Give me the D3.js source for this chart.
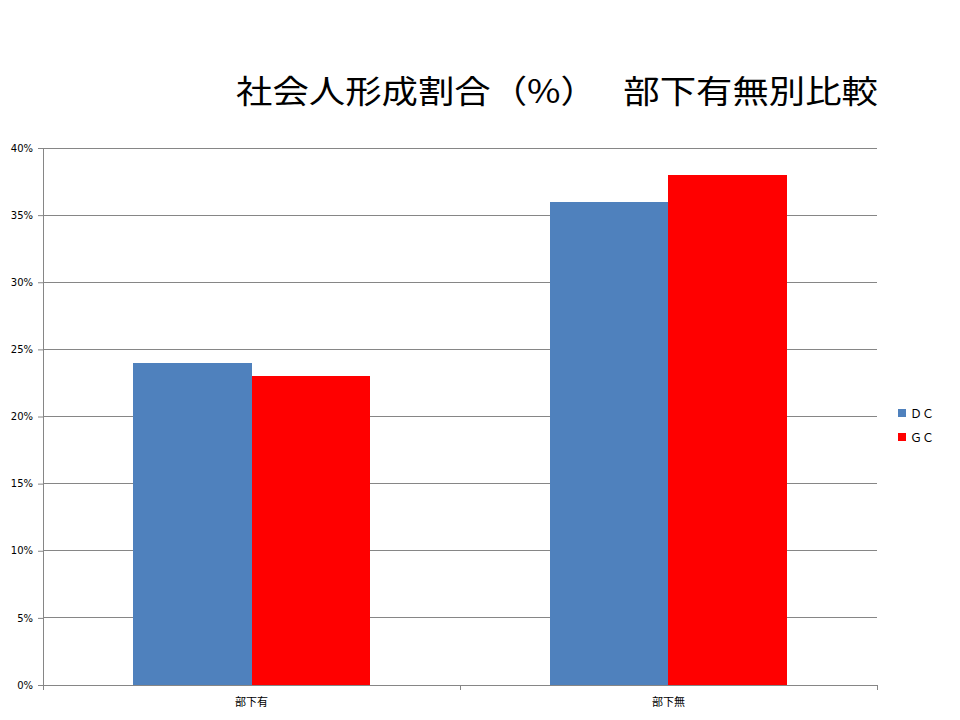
<!DOCTYPE html>
<html><head><meta charset="utf-8">
<script src="https://cdn.jsdelivr.net/npm/d3@7"></script>
<style>body{margin:0;background:#fff;}</style>
</head><body>
<svg id="c" width="960" height="720"></svg>
<script>
const categories = ["部下有", "部下無"];
const seriesNames = ["ＤＣ", "ＧＣ"];
const dcValues = [24, 36];
const gcValues = [23, 38];
const colors = ["#4F81BD", "#FF0000"];
const yTicks = [0, 5, 10, 15, 20, 25, 30, 35, 40];

const svg = d3.select("#c");
const L = 43, R = 877, T = 148, B = 685;
const x = d3.scaleBand().domain(categories).range([L, R]).paddingInner(0.4293).paddingOuter(0.4293/2);
const x1 = d3.scaleBand().domain(seriesNames).range([0, x.bandwidth()]);
const y = d3.scaleLinear().domain([0, 40]).range([B, T]);

// gridlines
svg.append("g").selectAll("line").data(yTicks.slice(1)).join("line")
  .attr("x1", L).attr("x2", R).attr("y1", d => y(d)).attr("y2", d => y(d))
  .attr("stroke", "#868686").attr("stroke-width", 1).attr("shape-rendering", "crispEdges");

const data = categories.map((c, i) => ({c, vals: [dcValues[i], gcValues[i]]}));
svg.append("g").selectAll("g").data(data).join("g")
  .attr("transform", d => `translate(${x(d.c)},0)`)
  .selectAll("rect").data(d => d.vals.map((v, j) => ({v, s: seriesNames[j], j})))
  .join("rect")
  .attr("x", d => x1(d.s)).attr("width", x1.bandwidth())
  .attr("y", d => y(d.v)).attr("height", d => B - y(d.v))
  .attr("fill", d => colors[d.j]).attr("shape-rendering", "crispEdges");

// y axis
const yAxis = d3.axisLeft(y).tickValues(yTicks).tickFormat(d => d + "%").tickSize(5).tickPadding(5);
const gy = svg.append("g").attr("transform", `translate(${L},0)`).call(yAxis);
gy.select(".domain").attr("stroke", "#868686").attr("d", `M0.5,${T}V${B}`);
gy.selectAll(".tick line").attr("stroke", "#868686");
gy.selectAll("text").attr("font-family", "Verdana, 'DejaVu Sans', sans-serif").attr("font-size", 10).attr("fill", "#000");

// x axis
const gx = svg.append("g").attr("transform", `translate(0,${B})`);
gx.append("line").attr("x1", L).attr("x2", R).attr("y1", 0.5).attr("y2", 0.5).attr("stroke", "#868686");
const bounds = [L, (L + R) / 2, R];
gx.selectAll("line.t").data(bounds).join("line").attr("class", "t")
  .attr("x1", d => Math.round(d) + 0.5).attr("x2", d => Math.round(d) + 0.5)
  .attr("y1", 0).attr("y2", 5).attr("stroke", "#868686");
gx.selectAll("text").data(categories).join("text")
  .attr("x", d => x(d) + x.bandwidth() / 2).attr("y", 21)
  .attr("text-anchor", "middle")
  .attr("font-family", "'Noto Sans CJK JP', sans-serif").attr("font-size", 11).attr("fill", "#000")
  .text(d => d);

// title
svg.append("text").attr("x", 236).attr("y", 103)
  .attr("font-family", "'Noto Sans CJK JP', sans-serif").attr("font-size", 32).attr("fill", "#000")
  .attr("textLength", 642).attr("lengthAdjust", "spacingAndGlyphs")
  .text("社会人形成割合（%）　 部下有無別比較");

// legend
const lg = svg.append("g").attr("transform", "translate(898,409)");
seriesNames.forEach((s, i) => {
  lg.append("rect").attr("x", 0).attr("y", i * 24).attr("width", 8).attr("height", 8).attr("fill", colors[i]);
  lg.append("text").attr("x", 12).attr("y", i * 24 + 8.5)
    .attr("font-family", "'Noto Sans CJK JP', sans-serif").attr("font-size", 12).attr("fill", "#000")
    .text(s);
});
</script>
</body></html>
